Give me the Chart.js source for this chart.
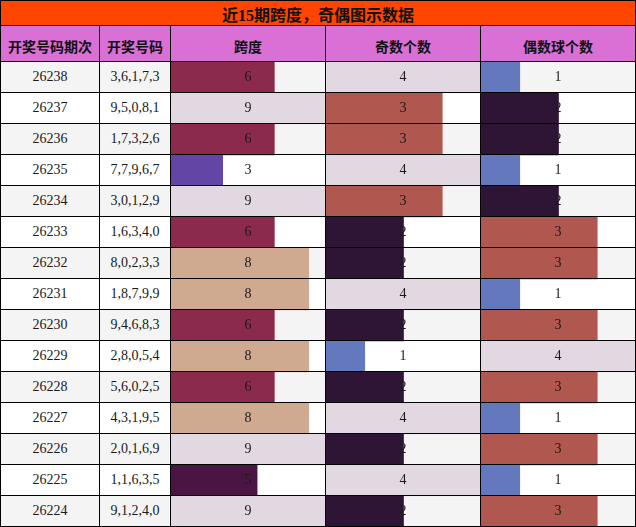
<!DOCTYPE html>
<html>
<head>
<meta charset="utf-8">
<script src="https://cdn.jsdelivr.net/npm/chart.js@4"></script>
<style>
  html, body { margin: 0; padding: 0; background: #fff; }
  #wrap { position: relative; width: 636px; height: 527px; overflow: hidden; }
  .abs { position: absolute; box-sizing: border-box; }
  .cell { display: flex; align-items: center; justify-content: center; color: #1a1a1a;
          font-family: "Liberation Serif", "DejaVu Serif", serif; font-size: 14px; }
  .hdr { font-family: "Noto Sans CJK SC", sans-serif; font-weight: bold; font-size: 14px; color: #111; }
  .ttl { font-family: "Liberation Serif", "Noto Sans CJK SC", serif; font-weight: bold; font-size: 16px; color: #111; }
  .line { background: #000; z-index: 5; }
  canvas { display: block; }
</style>
</head>
<body>
<div id="wrap"></div>
<script>
// ---------------- data ----------------
const title = '近15期跨度，奇偶图示数据';
const headers = ['开奖号码期次', '开奖号码', '跨度', '奇数个数', '偶数球个数'];
const periods = ['26238','26237','26236','26235','26234','26233','26232','26231','26230','26229','26228','26227','26226','26225','26224'];
const numbers = ['3,6,1,7,3','9,5,0,8,1','1,7,3,2,6','7,7,9,6,7','3,0,1,2,9','1,6,3,4,0','8,0,2,3,3','1,8,7,9,9','9,4,6,8,3','2,8,0,5,4','5,6,0,2,5','4,3,1,9,5','2,0,1,6,9','1,1,6,3,5','9,1,2,4,0'];
const spanValues = [6,9,6,3,9,6,8,8,6,8,6,8,9,5,9];
const oddValues  = [4,3,3,4,3,2,2,4,2,1,2,4,2,4,2];
const evenValues = [1,2,2,1,2,3,3,1,3,4,3,1,3,1,3];

// ---------------- styles ----------------
const spanColors = {3:'#6345A6', 5:'#4A1443', 6:'#8C2A4E', 8:'#CFAA90', 9:'#E2D8E2'};
const countColors = {1:'#6478BD', 2:'#2F1535', 3:'#B0574F', 4:'#E2D8E2'};
const rowTop = 62, rowPitch = 31;
const colLines = [0, 99, 170, 325, 480, 635];

const wrap = document.getElementById('wrap');
function div(cls, l, t, w, h, extra) {
  const d = document.createElement('div');
  d.className = 'abs ' + cls;
  d.style.left = l + 'px'; d.style.top = t + 'px';
  d.style.width = w + 'px'; d.style.height = h + 'px';
  if (extra) Object.assign(d.style, extra);
  wrap.appendChild(d);
  return d;
}

// title
div('cell ttl', 0, 0, 636, 26, {background:'#FF4500', paddingTop:'2px'}).textContent = title;
// header
for (let c = 0; c < 5; c++) {
  const l = colLines[c] + 1, w = colLines[c+1] - colLines[c] - 1;
  div('cell hdr', l, 26, w, 35, {background:'#DA70D6', paddingTop:'4px'}).textContent = headers[c];
}
// text columns
periods.forEach((p, r) => {
  const bg = r % 2 === 0 ? '#F4F4F4' : '#FFFFFF';
  const t = rowTop + r * rowPitch;
  div('cell', 1, t, 98, 30, {background:bg}).textContent = p;
  div('cell', 100, t, 70, 30, {background:bg}).textContent = numbers[r];
});

// lines
[0, 25, 61].forEach(y => div('line', 0, y, 636, 1));
for (let r = 0; r < periods.length; r++) div('line', 0, rowTop + r * rowPitch + 30, 636, 1);
[0, 635].forEach(x => div('line', x, 0, 1, 527));
[99, 170, 325, 480].forEach(x => div('line', x, 25, 1, 502));

// ---------------- charts ----------------
const bandPlugin = {
  id: 'bands',
  beforeDatasetsDraw(chart) {
    const ctx = chart.ctx, ys = chart.scales.y, a = chart.chartArea;
    const n = ys.getLabels().length;
    const h = (a.bottom - a.top) / n;
    ctx.save();
    for (let i = 0; i < n; i++) {
      ctx.fillStyle = i % 2 === 0 ? '#F4F4F4' : '#FFFFFF';
      const yc = ys.getPixelForValue(i);
      ctx.fillRect(a.left, yc - h / 2, a.right - a.left, h);
    }
    ctx.restore();
  },
  afterDatasetsDraw(chart) {
    const ctx = chart.ctx, ys = chart.scales.y, a = chart.chartArea;
    const data = chart.data.datasets[0].data;
    ctx.save();
    ctx.font = '14px "Liberation Serif", "DejaVu Serif", serif';
    ctx.fillStyle = '#1a1a1a';
    ctx.textAlign = 'center';
    ctx.textBaseline = 'middle';
    const cx = (a.left + a.right) / 2 - 0.5;
    data.forEach((v, i) => ctx.fillText(String(v), cx, ys.getPixelForValue(i)));
    ctx.restore();
  }
};

function makeChart(left, values, colorMap) {
  const holder = div('', left, rowTop, 155, 465, {zIndex: 2});
  const cv = document.createElement('canvas');
  cv.width = 155; cv.height = 465;
  cv.style.width = '155px'; cv.style.height = '465px';
  holder.appendChild(cv);
  new Chart(cv, {
    type: 'bar',
    data: {
      labels: periods,
      datasets: [{
        data: values,
        backgroundColor: values.map(v => colorMap[v]),
        borderWidth: 0,
        barPercentage: 1,
        categoryPercentage: 1
      }]
    },
    options: {
      indexAxis: 'y',
      responsive: false,
      maintainAspectRatio: false,
      animation: false,
      layout: { padding: 0 },
      plugins: { legend: { display: false }, tooltip: { enabled: false }, title: { display: false } },
      scales: {
        x: { display: false, min: 0, max: Math.max(...values) },
        y: { display: false, offset: true }
      }
    },
    plugins: [bandPlugin]
  });
}

makeChart(171, spanValues, spanColors);
makeChart(326, oddValues, countColors);
makeChart(481, evenValues, countColors);
</script>
</body>
</html>
